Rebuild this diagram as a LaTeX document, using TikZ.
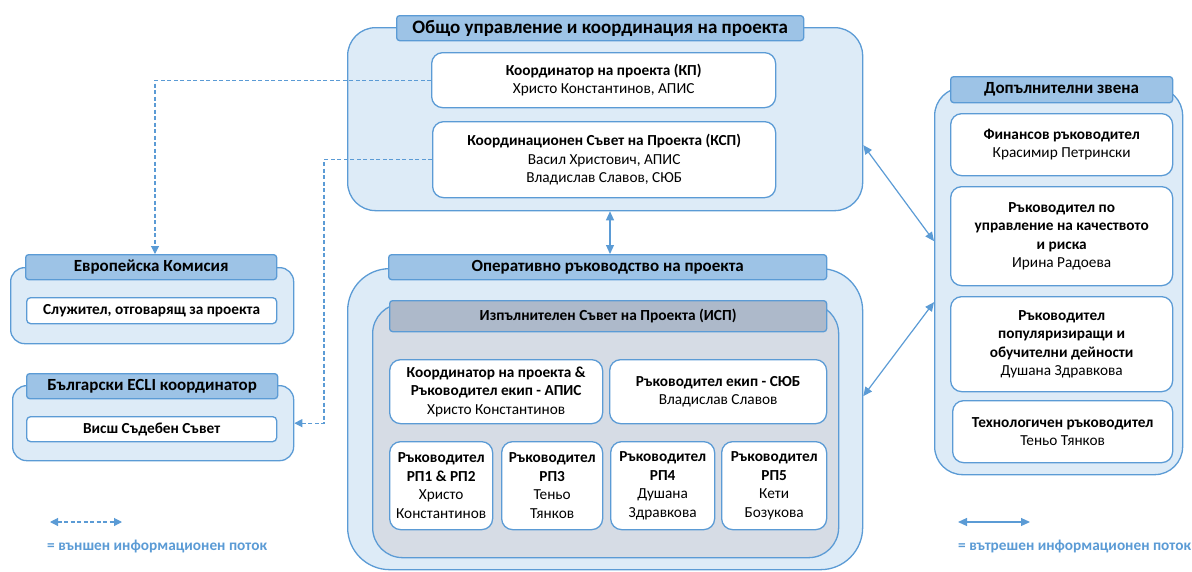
\documentclass[tikz,border=0pt]{standalone}
\usepackage{fontspec}
\setmainfont{Carlito}
\usetikzlibrary{arrows.meta}
\definecolor{bl}{RGB}{91,155,213}
\definecolor{lbl}{RGB}{221,235,247}
\definecolor{hbl}{RGB}{157,195,230}
\definecolor{gfill}{RGB}{214,220,229}
\definecolor{ghdr}{RGB}{173,185,202}
\newcommand{\bx}[7]{\node[#1, anchor=north west, minimum width={(#5-#3)*1pt}, minimum height={(#6-#4)*1pt}, inner sep=0pt] (#2) at (#3,#4) {#7};}
\begin{document}
\begin{tikzpicture}[x=1pt,y=-1pt,
  cont/.style={draw=bl, fill=lbl, line width=1.3pt, rounded corners=28pt},
  smallcont/.style={draw=bl, fill=lbl, line width=1.3pt, rounded corners=14pt},
  graycont/.style={draw=bl, fill=gfill, line width=1.3pt, rounded corners=30pt},
  hdr/.style={draw=bl, fill=hbl, line width=1.3pt, rounded corners=3pt, font=\fontsize{17}{20}\selectfont\bfseries},
  ghdrs/.style={draw=bl, fill=ghdr, line width=1.3pt, rounded corners=3pt, font=\fontsize{15.4}{18}\selectfont\bfseries},
  wbox/.style={draw=bl, fill=white, line width=1.3pt, rounded corners=11pt, align=center, font=\fontsize{15.3}{18.5}\selectfont},
  ext/.style={draw=bl, line width=1.1pt, dash pattern=on 4pt off 2.5pt, -{Triangle[length=8pt,width=8pt]}},
  extb/.style={draw=bl, line width=1.1pt, dash pattern=on 4pt off 2.5pt, {Triangle[length=8pt,width=8pt]}-{Triangle[length=8pt,width=8pt]}},
  intl/.style={draw=bl, line width=1.2pt, {Triangle[length=9pt,width=8pt]}-{Triangle[length=9pt,width=8pt]}},
  legtext/.style={text=bl, font=\fontsize{15.3}{17}\selectfont\bfseries, anchor=west, inner sep=0pt}
]
\useasboundingbox (0,0) rectangle (1192,571);

% top container
\bx{cont}{top}{347}{27}{862}{210}{}
\bx{hdr, font=\fontsize{19}{22}\selectfont\bfseries}{toph}{396}{15}{803}{40}{Общо управление и координация на проекта}
\bx{wbox}{kp}{431}{52}{775}{107}{\textbf{Координатор на проекта (КП)}\\Христо Константинов, АПИС}
\bx{wbox}{ksp}{432}{121}{775}{197}{\textbf{Координационен Съвет на Проекта (КСП)}\\Васил Христович, АПИС\\Владислав Славов, СЮБ}

% operational container
\bx{cont, rounded corners=42pt}{op}{347}{268}{862}{569}{}
\bx{hdr}{oph}{388}{254}{826}{279}{Оперативно ръководство на проекта}
\bx{graycont}{isp}{372}{303}{838}{557}{}
\bx{ghdrs}{isph}{389}{300}{826}{331}{Изпълнителен Съвет на Проекта (ИСП)}
\bx{wbox}{ka}{389}{359}{602}{423}{\textbf{Координатор на проекта \&}\\\textbf{Ръководител екип - АПИС}\\Христо Константинов}
\bx{wbox}{rs}{609}{359}{826}{423}{\textbf{Ръководител екип - СЮБ}\\Владислав Славов}
\bx{wbox}{r1}{389}{441}{492}{529}{\textbf{Ръководител}\\\textbf{РП1 \& РП2}\\Христо\\Константинов}
\bx{wbox}{r3}{501}{441}{602}{529}{\textbf{Ръководител}\\\textbf{РП3}\\Теньо\\Тянков}
\bx{wbox}{r4}{610}{441}{714}{529}{\textbf{Ръководител}\\\textbf{РП4}\\Душана\\Здравкова}
\bx{wbox}{r5}{721}{441}{826}{529}{\textbf{Ръководител}\\\textbf{РП5}\\Кети\\Бозукова}

% left containers
\bx{smallcont}{ek}{10}{267}{293}{343}{}
\bx{hdr}{ekh}{25}{254}{276}{279}{Европейска Комисия}
\bx{wbox, rounded corners=4pt}{eki}{26}{297}{276}{323}{\textbf{Служител, отговарящ за проекта}}
\bx{smallcont}{bec}{12}{385}{293}{460}{}
\bx{hdr}{bech}{26}{373}{277}{398}{Български ECLI координатор}
\bx{wbox, rounded corners=4pt}{beci}{26}{416}{276}{441}{\textbf{Висш Съдебен Съвет}}

% right container
\bx{cont}{rt}{934}{87}{1182}{474}{}
\bx{hdr}{rth}{950}{76}{1172}{102}{Допълнителни звена}
\bx{wbox}{fin}{950}{113}{1172}{175}{\textbf{Финансов ръководител}\\Красимир Петрински}
\bx{wbox}{qual}{950}{186}{1172}{285}{\textbf{Ръководител по}\\\textbf{управление на качеството}\\\textbf{и риска}\\Ирина Радоева}
\bx{wbox}{pop}{950}{296}{1172}{391}{\textbf{Ръководител}\\\textbf{популяризиращи и}\\\textbf{обучителни дейности}\\Душана Здравкова}
\bx{wbox}{tech}{952}{400}{1172}{462}{\textbf{Технологичен ръководител}\\Теньо Тянков}

% connectors
\coordinate (c1) at (155,0);
\coordinate (c2) at (324,0);
\coordinate (c3) at (610,0);
\draw[ext] (kp.west) -| (c1 |- ekh.north);
\draw[ext] (ksp.west) -- (ksp.west -| c2) |- (bec.east);
\draw[intl] (c3 |- top.south) -- (c3 |- oph.north);
\draw[intl] ([yshift=-26pt]top.east) -- ([yshift=40pt]rt.west);
\draw[intl] ([yshift=-21pt]rt.west) -- ([yshift=23pt]op.east);

% legend
\coordinate (l1) at (50,522);
\coordinate (l2) at (122,522);
\coordinate (l3) at (958,522);
\coordinate (l4) at (1030,522);
\draw[extb] (l1) -- (l2);
\draw[intl] (l3) -- (l4);
\node[legtext] (lt1) at (47,547) {= външен информационен поток};
\node[legtext] (lt2) at (958,547) {= вътрешен информационен поток};
\end{tikzpicture}
\end{document}
